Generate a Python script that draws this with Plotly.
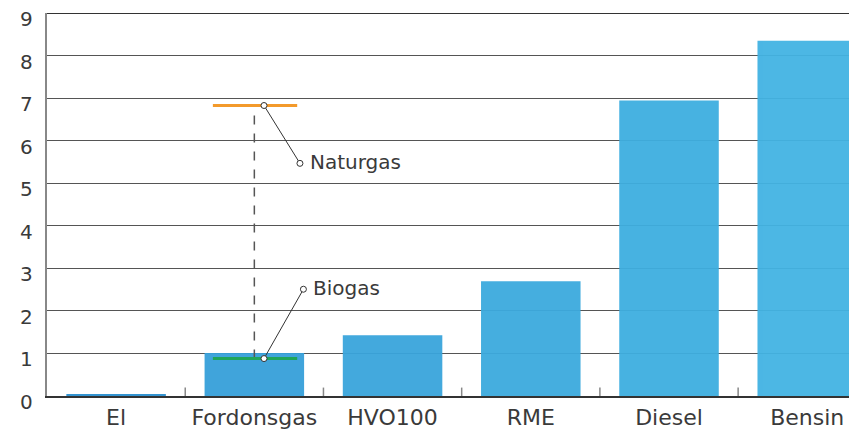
import plotly.graph_objects as go

categories = ["El", "Fordonsgas", "HVO100", "RME", "Diesel", "Bensin"]
values = [0.03, 1.01, 1.43, 2.70, 6.95, 8.35]
bar_colors = ["#2a8fcf", "#36a0da", "#39a5dc", "#3caade", "#3eaee0", "#42b3e3"]
naturgas_value = 6.83
biogas_value = 0.88
y_ticks = list(range(0, 10))
y_tick_labels = [str(v) for v in y_ticks]

FONT = "DejaVu Sans"

fig = go.Figure()
fig.add_trace(go.Bar(
    x=list(range(len(categories))), y=values,
    marker=dict(color=bar_colors, line=dict(width=0)),
    opacity=0.95, width=0.72, showlegend=False, hoverinfo="skip"))

gi = categories.index("Fordonsgas")
shapes = [
    dict(type="line", xref="paper", yref="y", x0=0, x1=1, y0=9, y1=9,
         line=dict(color="#333333", width=1.5)),
    dict(type="line", xref="x", yref="y", x0=gi, x1=gi, y0=biogas_value, y1=naturgas_value,
         line=dict(color="#555555", width=1.5, dash="dash")),
    dict(type="line", xref="x", yref="y", x0=gi - 0.30, x1=gi + 0.31, y0=naturgas_value, y1=naturgas_value,
         line=dict(color="#f39a2b", width=3)),
    dict(type="line", xref="x", yref="y", x0=gi - 0.30, x1=gi + 0.31, y0=biogas_value, y1=biogas_value,
         line=dict(color="#1fa55a", width=3)),
]
leaders = [
    (gi + 0.07, naturgas_value, gi + 0.33, 5.47, "Naturgas"),
    (gi + 0.07, biogas_value, gi + 0.355, 2.51, "Biogas"),
]
annotations = []
for x0, y0, x1, y1, txt in leaders:
    shapes.append(dict(type="line", xref="x", yref="y", x0=x0, y0=y0, x1=x1, y1=y1,
                       line=dict(color="#333333", width=1)))
    for (cx, cy) in [(x0, y0), (x1, y1)]:
        shapes.append(dict(type="circle", xref="x", yref="y", xsizemode="pixel", ysizemode="pixel",
                           xanchor=cx, yanchor=cy, x0=-3, x1=3, y0=-3, y1=3,
                           line=dict(color="#333333", width=1), fillcolor="white"))
    annotations.append(dict(x=x1, y=y1, xref="x", yref="y", text=txt, showarrow=False,
                            xanchor="left", yanchor="middle", xshift=8, yshift=1,
                            font=dict(size=20, color="#3a3a3a", family=FONT)))

# y tick labels sit slightly below their gridlines in the reference
for v, lab in zip(y_ticks, y_tick_labels):
    annotations.append(dict(x=0, y=v, xref="paper", yref="y", text=lab, showarrow=False,
                            xanchor="right", yanchor="middle", xshift=-12, yshift=-6,
                            font=dict(size=20, color="#3a3a3a", family=FONT)))

# the page body has an 8px default margin, so the figure is sized to end at the window edge
fig.update_layout(
    width=849, height=421,
    margin=dict(l=39, r=0, t=5, b=33),
    paper_bgcolor="white", plot_bgcolor="white",
    shapes=shapes, annotations=annotations,
    font=dict(family=FONT, size=19, color="#3a3a3a"),
    xaxis=dict(range=[-0.5, 5.36], tickmode="array", tickvals=list(range(len(categories))),
               ticktext=categories, showgrid=False, showline=True, linecolor="#333333", linewidth=1.5,
               ticks="", zeroline=False, automargin=False, ticklabelstandoff=1,
               ticklabeloverflow="allow",
               tickfont=dict(size=22, family=FONT, color="#3a3a3a")),
    yaxis=dict(range=[0, 9.005], tickvals=y_ticks, showgrid=True, gridcolor="#555555", gridwidth=1,
               showline=True, linecolor="#888888", linewidth=1.5, zeroline=False,
               ticks="", showticklabels=False, automargin=False),
)
for b in [0.5, 1.5, 2.5, 3.5, 4.5]:
    fig.add_shape(type="line", xref="x", yref="paper", x0=b, x1=b, y0=0, y1=0.022,
                  line=dict(color="#888888", width=1.5))

fig.write_html("out.html")
